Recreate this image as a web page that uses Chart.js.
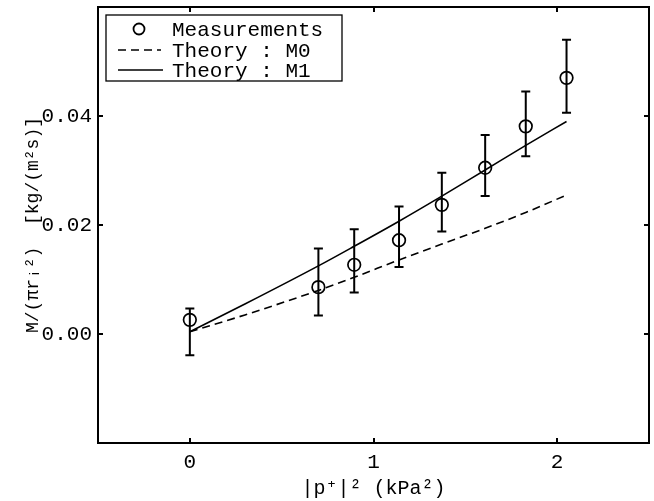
<!DOCTYPE html>
<html>
<head>
<meta charset="utf-8">
<script src="https://cdn.jsdelivr.net/npm/chart.js@4/dist/chart.umd.min.js"></script>
<style>
  html, body { margin: 0; padding: 0; background: #ffffff; }
  #wrap { width: 654px; height: 501px; }
</style>
</head>
<body>
<div id="wrap"><canvas id="c" width="654" height="501"></canvas></div>
<script>
// ---- data ----
const measX   = [0, 0.70, 0.895, 1.139, 1.372, 1.608, 1.829, 2.051];
const measY   = [0.0026, 0.0086, 0.0127, 0.0172, 0.0237, 0.0305, 0.0381, 0.0470];
const measHi  = [0.0047, 0.0157, 0.0192, 0.0234, 0.0296, 0.0365, 0.0445, 0.0540];
const measLo  = [-0.0039, 0.0034, 0.0076, 0.0123, 0.0188, 0.0253, 0.0326, 0.0406];

const theoryX = [0, 0.30, 0.70, 0.895, 1.139, 1.372, 1.608, 1.829, 2.051];
const m0Y     = [0.0004, 0.0035, 0.0080, 0.0104, 0.0136, 0.0165, 0.0194, 0.0223, 0.0255];
const m1Y     = [0.0004, 0.0055, 0.0125, 0.0161, 0.0207, 0.0253, 0.0301, 0.0346, 0.0390];

const xTickValues = [0, 1, 2];
const yTickValues = [0, 0.02, 0.04];

const seriesLabels = ['Measurements', 'Theory : M0', 'Theory : M1'];
const xTitle = '|p\u207A|\u00B2 (kPa\u00B2)';
const yTitle = 'M/(\u03C0r\u1D62\u00B2)  [kg/(m\u00B2s)]';

// ---- build library structures ----
const pts = (xs, ys) => xs.map((x, i) => ({ x: x, y: ys[i] }));
const FONT = '"Liberation Mono", "DejaVu Sans Mono", monospace';

const frameAndExtras = {
  id: 'frameAndExtras',
  beforeDatasetsDraw(chart) {
    const ctx = chart.ctx, xs = chart.scales.x, ys = chart.scales.y;
    ctx.save();
    ctx.strokeStyle = '#000';
    ctx.lineWidth = 2;
    measX.forEach((x, i) => {
      const px = xs.getPixelForValue(x);
      const pHi = ys.getPixelForValue(measHi[i]);
      const pLo = ys.getPixelForValue(measLo[i]);
      ctx.beginPath();
      ctx.moveTo(px, pHi); ctx.lineTo(px, pLo);
      ctx.moveTo(px - 4.5, pHi); ctx.lineTo(px + 4.5, pHi);
      ctx.moveTo(px - 4.5, pLo); ctx.lineTo(px + 4.5, pLo);
      ctx.stroke();
    });
    ctx.restore();
  },
  afterDraw(chart) {
    const ctx = chart.ctx, a = chart.chartArea, xs = chart.scales.x, ys = chart.scales.y;
    ctx.save();
    ctx.strokeStyle = '#000';
    // frame
    ctx.lineWidth = 2;
    ctx.strokeRect(a.left, a.top, a.right - a.left, a.bottom - a.top);
    // inward ticks on all four sides
    const tl = 5;
    ctx.beginPath();
    xTickValues.forEach(v => {
      const px = Math.round(xs.getPixelForValue(v));
      ctx.moveTo(px, a.bottom); ctx.lineTo(px, a.bottom - tl);
      ctx.moveTo(px, a.top); ctx.lineTo(px, a.top + tl);
    });
    yTickValues.forEach(v => {
      const py = Math.round(ys.getPixelForValue(v));
      ctx.moveTo(a.left, py); ctx.lineTo(a.left + tl, py);
      ctx.moveTo(a.right, py); ctx.lineTo(a.right - tl, py);
    });
    ctx.stroke();

    // legend box
    const bx = a.left + 8, by = a.top + 8, bw = 236, bh = 66;
    ctx.fillStyle = '#fff';
    ctx.fillRect(bx, by, bw, bh);
    ctx.lineWidth = 1.3;
    ctx.strokeRect(bx, by, bw, bh);
    const rows = [by + 14, by + 35, by + 55];
    const ds = chart.data.datasets;
    ctx.lineWidth = 1.8;
    ctx.beginPath();
    ctx.arc(bx + 33, rows[0], 5.5, 0, Math.PI * 2);
    ctx.stroke();
    ctx.lineWidth = 1.5;
    ctx.setLineDash([8, 5]);
    ctx.beginPath();
    ctx.moveTo(bx + 12, rows[1]); ctx.lineTo(bx + 55, rows[1]);
    ctx.stroke();
    ctx.setLineDash([]);
    ctx.beginPath();
    ctx.moveTo(bx + 12, rows[2]); ctx.lineTo(bx + 57, rows[2]);
    ctx.stroke();
    ctx.fillStyle = '#000';
    ctx.font = '21px ' + FONT;
    ctx.textBaseline = 'middle';
    ctx.textAlign = 'left';
    ds.forEach((d, i) => ctx.fillText(d.label, bx + 66, rows[i] + 1));
    ctx.restore();
  }
};

new Chart(document.getElementById('c'), {
  type: 'scatter',
  data: {
    datasets: [
      {
        label: seriesLabels[0],
        data: pts(measX, measY),
        showLine: false,
        pointStyle: 'circle',
        pointRadius: 6.3,
        pointHoverRadius: 6.3,
        pointBorderWidth: 1.7,
        borderColor: '#000',
        pointBorderColor: '#000',
        pointBackgroundColor: 'rgba(0,0,0,0)',
        backgroundColor: 'rgba(0,0,0,0)'
      },
      {
        label: seriesLabels[1],
        data: pts(theoryX, m0Y),
        showLine: true,
        borderColor: '#000',
        borderWidth: 1.6,
        borderDash: [8, 5],
        pointRadius: 0,
        cubicInterpolationMode: 'monotone',
        fill: false
      },
      {
        label: seriesLabels[2],
        data: pts(theoryX, m1Y),
        showLine: true,
        borderColor: '#000',
        borderWidth: 1.6,
        pointRadius: 0,
        cubicInterpolationMode: 'monotone',
        fill: false
      }
    ]
  },
  options: {
    responsive: false,
    animation: false,
    devicePixelRatio: 1,
    layout: { autoPadding: false, padding: { top: 7, right: 5, left: 0, bottom: 0 } },
    plugins: {
      legend: { display: false },
      tooltip: { enabled: false }
    },
    scales: {
      x: {
        type: 'linear',
        min: -0.5,
        max: 2.5,
        grid: { display: false, drawTicks: false },
        border: { display: false },
        afterBuildTicks: s => { s.ticks = xTickValues.map(v => ({ value: v })); },
        afterFit: s => { s.height = 58; s.paddingLeft = 0; s.paddingRight = 0; },
        ticks: {
          color: '#000',
          padding: 7,
          maxRotation: 0,
          font: { family: FONT, size: 21 },
          callback: v => String(v)
        },
        title: {
          display: true,
          text: xTitle,
          color: '#000',
          font: { family: FONT, size: 20 },
          padding: { top: 0, bottom: 0 }
        }
      },
      y: {
        type: 'linear',
        min: -0.02,
        max: 0.06,
        grid: { display: false, drawTicks: false },
        border: { display: false },
        afterBuildTicks: s => { s.ticks = yTickValues.map(v => ({ value: v })); },
        afterFit: s => { s.width = 98; s.paddingTop = 0; s.paddingBottom = 0; },
        ticks: {
          color: '#000',
          padding: 6,
          font: { family: FONT, size: 21 },
          callback: v => Number(v).toFixed(2)
        },
        title: {
          display: true,
          text: yTitle,
          color: '#000',
          font: { family: FONT, size: 18 },
          padding: { top: 22, bottom: 0 }
        }
      }
    }
  },
  plugins: [frameAndExtras]
});
</script>
</body>
</html>
